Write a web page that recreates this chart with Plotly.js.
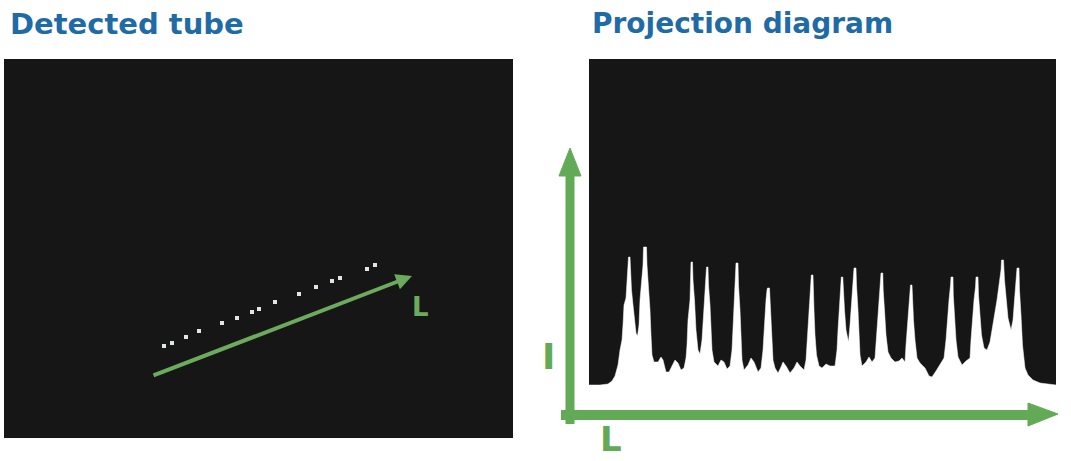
<!DOCTYPE html>
<html>
<head>
<meta charset="utf-8">
<script src="https://cdn.plot.ly/plotly-3.0.1.min.js"></script>
<style>html,body{margin:0;padding:0;background:#fff;}#chart{width:1071px;height:461px;}</style>
</head>
<body>
<div id="chart"></div>
<script>
// Left panel: detected tube points (position along image, px-like units)
const tubeX = [160, 168, 182, 195, 218, 233, 248, 255, 271, 295, 312, 328, 336, 363, 371];
const tubeY = [92, 95, 101, 107, 115, 120, 126, 129, 136, 144, 151, 157, 160, 169, 173];
// Direction L of the tube (arrow start / end)
const dirStart = [148, 62];
const dirEnd = [408, 162];

// Right panel: projection profile, intensity I along L
const profL = [0, 11, 19, 23, 26, 29, 31, 33, 34, 35, 37, 38, 39, 39.5, 41, 41.5, 42.5, 44, 46, 47, 48.5,
  50, 51, 52.5, 54, 54.5, 57.5, 58, 59.5, 61, 62, 63, 65, 69, 72, 74, 77, 80, 83, 86, 89, 92, 95, 97,
  98, 99, 101, 101.5, 102, 103.5, 104, 105.5, 107, 109, 111,
  113, 114.5, 116, 117, 117.5, 119, 119.5, 121, 122, 123, 125, 129, 132, 135, 138, 141,
  143, 144, 145.5, 146.5, 147, 149, 149.5, 151, 152, 153, 155, 159, 162, 165, 169, 172,
  174, 175, 176, 177, 178, 178.5, 180.5, 181, 182, 183, 184, 186, 189, 192, 194, 197, 201, 205, 208, 211, 215, 217,
  218, 219.5, 221, 222, 222.3, 224, 224.3, 225, 226, 227.5, 230, 233, 237, 241, 246,
  248, 249, 250.5, 252, 252.3, 253.8, 254.3, 255.5, 257, 258.5, 259.5,
  261, 262.5, 264, 265, 267, 267.5, 269, 270, 271, 273, 277, 280, 283, 286,
  287, 288.5, 290, 291.5, 292, 293.8, 294.2, 295.5, 297, 299, 302, 306, 310, 313, 316,
  317, 318.5, 320, 321, 321.5, 323, 323.5, 324.5, 326, 328, 331, 336, 340, 343, 347, 351, 355,
  357, 358.5, 360, 361.5, 362, 364, 364.3, 365.5, 367, 369, 373, 377, 381,
  382, 383.5, 385, 386.5, 387, 389, 389.5, 391, 392.5, 395, 398, 401,
  405, 408, 410, 412, 412.5, 414.5, 415.5, 417, 419, 422,
  424, 425.5, 427, 428, 430, 430.5, 432, 433.5, 436, 439, 444, 451, 459, 467];
const profI = [15, 15, 16, 19, 24, 35, 50, 60, 75, 95, 102, 120, 130, 143, 143, 128, 110, 95, 80, 67, 64,
  75, 100, 115, 135, 153, 153, 135, 115, 90, 65, 45, 38, 38, 43, 40, 28, 28, 34, 40, 37, 30, 32, 42,
  55, 80, 100, 125, 138, 138, 120, 100, 70, 50, 46,
  60, 85, 105, 122, 133, 133, 115, 95, 70, 50, 38, 34, 40, 38, 31, 34,
  50, 70, 100, 120, 137, 137, 115, 90, 60, 40, 30, 35, 42, 38, 28, 32,
  50, 70, 90, 100, 110, 112, 112, 100, 82, 60, 40, 32, 27, 33, 38, 34, 27, 32, 38, 34, 30, 40,
  55, 80, 100, 115, 125, 125, 110, 90, 65, 45, 34, 32, 36, 34, 34,
  50, 70, 95, 110, 123, 123, 110, 90, 70, 60, 58,
  75, 95, 115, 132, 132, 115, 90, 65, 45, 34, 38, 43, 38, 42,
  55, 80, 100, 115, 127, 127, 110, 90, 65, 48, 42, 38, 39, 42, 38,
  55, 75, 95, 105, 115, 115, 100, 80, 60, 42, 37, 32, 24, 23, 29, 35, 42,
  60, 85, 100, 115, 123, 123, 105, 85, 60, 43, 35, 39, 42,
  60, 82, 100, 113, 123, 123, 105, 85, 65, 52, 50, 58,
  80, 100, 115, 130, 140, 140, 120, 100, 82, 70,
  80, 100, 115, 132, 132, 110, 85, 55, 32, 25, 20, 17, 16, 15];

const W = 1071, H = 461;
const px = v => v / W;
const py = v => 1 - v / H;
const GREEN = '#62aa56';
const BLUE = '#1f6ba6';
const TITLE_FONT = 'DejaVu Sans, sans-serif';

const traces = [
  {
    x: tubeX, y: tubeY, xaxis: 'x', yaxis: 'y', type: 'scatter', mode: 'markers',
    marker: {symbol: 'square', size: 4, color: '#dfe7e2'}, hoverinfo: 'skip'
  },
  {
    x: profL, y: profI, xaxis: 'x2', yaxis: 'y2', type: 'scatter', mode: 'lines',
    line: {color: '#ffffff', width: 0.5}, fill: 'tozeroy', fillcolor: '#ffffff', hoverinfo: 'skip'
  }
];

const hiddenAxis = {showgrid: false, zeroline: false, showticklabels: false, ticks: '', showline: false, fixedrange: true};

const layout = {
  width: W, height: H,
  margin: {l: 0, r: 0, t: 0, b: 0, pad: 0},
  paper_bgcolor: '#ffffff',
  plot_bgcolor: '#161616',
  showlegend: false,
  xaxis: Object.assign({}, hiddenAxis, {domain: [px(4), px(513)], range: [0, 509], anchor: 'y'}),
  yaxis: Object.assign({}, hiddenAxis, {domain: [py(438), py(59)], range: [0, 379], anchor: 'x'}),
  xaxis2: Object.assign({}, hiddenAxis, {domain: [px(589), px(1056)], range: [0, 467], anchor: 'y2'}),
  yaxis2: Object.assign({}, hiddenAxis, {domain: [py(400), py(59)], range: [0, 341], anchor: 'x2'}),
  shapes: [
    // vertical I axis
    {type: 'line', xref: 'paper', yref: 'paper', x0: px(570), y0: py(424), x1: px(570), y1: py(170),
     line: {color: GREEN, width: 9}},
    {type: 'path', xref: 'paper', yref: 'paper',
     path: `M ${px(559)} ${py(176)} L ${px(570)} ${py(148)} L ${px(581)} ${py(176)} Z`,
     fillcolor: GREEN, line: {color: GREEN, width: 1}},
    // horizontal L axis
    {type: 'line', xref: 'paper', yref: 'paper', x0: px(561), y0: py(415), x1: px(1030), y1: py(415),
     line: {color: GREEN, width: 10}},
    {type: 'path', xref: 'paper', yref: 'paper',
     path: `M ${px(1028)} ${py(403)} L ${px(1058)} ${py(414)} L ${px(1028)} ${py(426)} Z`,
     fillcolor: GREEN, line: {color: GREEN, width: 1}}
  ],
  annotations: [
    {text: '<b>Detected tube</b>', xref: 'paper', yref: 'paper', x: px(8), y: py(24), xanchor: 'left', yanchor: 'middle',
     showarrow: false, font: {family: TITLE_FONT, size: 29, color: BLUE}},
    {text: '<b>Projection diagram</b>', xref: 'paper', yref: 'paper', x: px(590), y: py(24), xanchor: 'left', yanchor: 'middle',
     showarrow: false, font: {family: TITLE_FONT, size: 28, color: BLUE}},
    // tube direction arrow
    {xref: 'x', yref: 'y', axref: 'x', ayref: 'y', x: dirEnd[0], y: dirEnd[1], ax: dirStart[0], ay: dirStart[1],
     text: '', showarrow: true, arrowhead: 2, arrowsize: 0.8, arrowwidth: 4, arrowcolor: '#6cab5e'},
    {text: '<b>L</b>', xref: 'paper', yref: 'paper', x: px(420), y: py(307), xanchor: 'center', yanchor: 'middle',
     showarrow: false, font: {family: TITLE_FONT, size: 26, color: '#6cab5e'}},
    {text: '<b>I</b>', xref: 'paper', yref: 'paper', x: px(548), y: py(356), xanchor: 'center', yanchor: 'middle',
     showarrow: false, font: {family: TITLE_FONT, size: 36, color: GREEN}},
    {text: '<b>L</b>', xref: 'paper', yref: 'paper', x: px(611), y: py(439), xanchor: 'center', yanchor: 'middle',
     showarrow: false, font: {family: TITLE_FONT, size: 34, color: GREEN}}
  ]
};

Plotly.newPlot('chart', traces, layout, {staticPlot: true, displayModeBar: false});
</script>
</body>
</html>
